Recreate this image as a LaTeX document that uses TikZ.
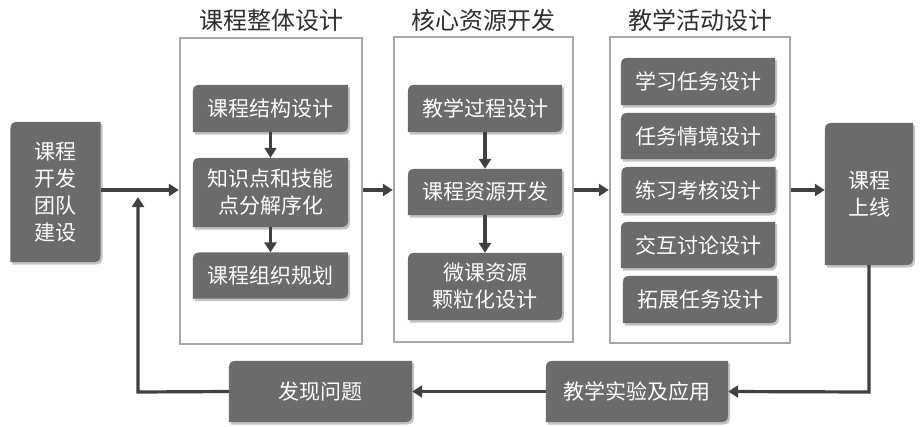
\documentclass[tikz,border=0pt]{standalone}
\usepackage{fontspec}
\setmainfont{Noto Sans CJK SC}
\usetikzlibrary{arrows.meta,backgrounds}
\definecolor{boxfill}{HTML}{6B6B6B}
\definecolor{boxshadow}{HTML}{C4C4C4}
\definecolor{framecol}{HTML}{A8A8A8}
\definecolor{arrowcol}{HTML}{404040}
\definecolor{titlecol}{HTML}{2E2E2E}
\tikzset{
  gbox/.style={inner sep=0pt, text=white, align=center, font=\fontsize{21}{27}\selectfont},
  frame/.style={draw=framecol, line width=2.4pt},
  ttl/.style={text=titlecol, font=\fontsize{24}{28}\selectfont},
  conn/.style={draw=arrowcol, line width=3.2pt, -{Triangle[length=10pt,width=12pt]}},
}
\newcommand{\shapedbox}[1]{%
  \fill[boxshadow] ([shift={(2pt,-2.5pt)}]#1.south west) -- ([shift={(2pt,-2.5pt)}]#1.north west)
    -- ([shift={(2pt,-2.5pt)}]#1.north east) -- ([shift={(2pt,13pt)}]#1.south east)
    .. controls ([shift={(2pt,-2.5pt)}]#1.south east) .. ([shift={(-13pt,-2.5pt)}]#1.south east) -- cycle;
  \fill[boxfill] (#1.south west) -- ([yshift=-14pt]#1.north west)
    .. controls (#1.north west) .. ([xshift=14pt]#1.north west)
    -- (#1.north east) -- ([yshift=14pt]#1.south east)
    .. controls (#1.south east) .. ([xshift=-14pt]#1.south east) -- cycle;
}
\begin{document}
\begin{tikzpicture}[x=1pt,y=-1pt]
\useasboundingbox (0,0) rectangle (921,426);
\node[ttl] (t1) at (271,20) {课程整体设计};
\node[ttl] (t2) at (483.5,20) {核心资源开发};
\node[ttl] (t3) at (700,20) {教学活动设计};
% boxes
\node[gbox, minimum width=90pt, minimum height=140pt] (team) at (55.5,192) {课程\\开发\\团队\\建设};
\node[gbox, minimum width=155pt, minimum height=47pt] (a1) at (270.5,108.5) {课程结构设计};
\node[gbox, minimum width=155pt, minimum height=69pt] (a2) at (270.5,192.5) {知识点和技能\\点分解序化};
\node[gbox, minimum width=155pt, minimum height=46pt] (a3) at (270.5,275.5) {课程组织规划};
\node[gbox, minimum width=154pt, minimum height=47pt] (b1) at (485,108.5) {教学过程设计};
\node[gbox, minimum width=154pt, minimum height=46pt] (b2) at (485,192) {课程资源开发};
\node[gbox, minimum width=154pt, minimum height=67pt] (b3) at (485,286.5) {微课资源\\颗粒化设计};
\node[gbox, minimum width=154pt, minimum height=47pt] (c1) at (698,81.5) {学习任务设计};
\node[gbox, minimum width=154pt, minimum height=46pt] (c2) at (698,136) {任务情境设计};
\node[gbox, minimum width=154pt, minimum height=46pt] (c3) at (698.5,190) {练习考核设计};
\node[gbox, minimum width=154pt, minimum height=46pt] (c4) at (698,245) {交互讨论设计};
\node[gbox, minimum width=154pt, minimum height=47pt] (c5) at (700,299.5) {拓展任务设计};
\node[gbox, minimum width=88pt, minimum height=142pt] (online) at (869,194) {课程\\上线};
\node[gbox, minimum width=182pt, minimum height=61pt] (exp) at (637,391.5) {教学实验及应用};
\node[gbox, minimum width=183pt, minimum height=61pt] (find) at (320.5,391.5) {发现问题};
\begin{scope}[on background layer]
  \node[frame, minimum width=182pt, minimum height=306pt, inner sep=0pt] (f1) at (271,191) {};
  \node[frame, minimum width=179pt, minimum height=305pt, inner sep=0pt] (f2) at (483.5,189.5) {};
  \node[frame, minimum width=180pt, minimum height=306pt, inner sep=0pt] (f3) at (700,190) {};
  \foreach \n in {team,a1,a2,a3,b1,b2,b3,c1,c2,c3,c4,c5,online,exp,find} {\shapedbox{\n}}
\end{scope}
% connectors
\coordinate (fbtop) at (138,197);
\coordinate (fbcorner) at (138,392);
\coordinate (rcorner) at (869,392);
\draw[conn] (team.east |- 0,190) -- (f1.west |- 0,190);
\draw[conn] (f1.east |- 0,190) -- (f2.west |- 0,190);
\draw[conn] (f2.east |- 0,190) -- (f3.west |- 0,190);
\draw[conn] (f3.east |- 0,190) -- (online.west |- 0,190);
\draw[conn] (a1) -- (a2);
\draw[conn] (a2) -- (a3);
\draw[conn] (b1) -- (b2);
\draw[conn] (b2) -- (b3);
\draw[conn] (online.south) -- (rcorner) -- (exp.east);
\draw[conn] (exp.west) -- (find.east);
\draw[conn] (find.west) -- (fbcorner) -- (fbtop);
\end{tikzpicture}
\end{document}
